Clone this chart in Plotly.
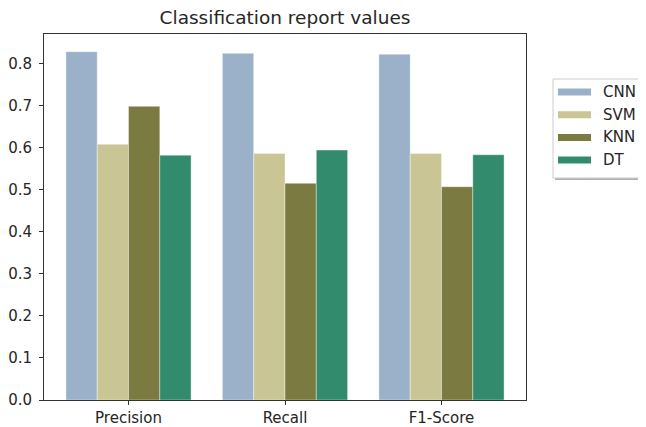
import plotly.graph_objects as go

metrics = ["Precision", "Recall", "F1-Score"]
models = ["CNN", "SVM", "KNN", "DT"]
cnn = [0.828, 0.824, 0.822]
svm = [0.608, 0.586, 0.586]
knn = [0.698, 0.515, 0.507]
dt = [0.582, 0.594, 0.583]
colors = ["#9bb1ca", "#c9c594", "#7a7a41", "#328b6c"]
yticks = [0.0, 0.1, 0.2, 0.3, 0.4, 0.5, 0.6, 0.7, 0.8]

series = [cnn, svm, knn, dt]

OFF = 8  # default page body margin
W, H = 646 - OFF, 427 - OFF
L, R, T, B = 44 - OFF, 120, 34 - OFF, 27
PW, PH = W - L - R, H - T - B

def px(x):
    # x in screenshot pixels -> paper coords
    return (x - OFF - L) / PW

def py(y):
    return (H - B - (y - OFF)) / PH

fig = go.Figure()
for name, vals, col in zip(models, series, colors):
    fig.add_trace(go.Bar(
        x=metrics, y=vals, name=name, showlegend=False,
        marker=dict(color=col, line=dict(width=0.7, color="rgba(255,255,255,0.55)")),
    ))

# manual legend (matplotlib style)
shapes = []
annotations = []
bx0, bx1, by0, by1 = 553, 640, 79, 178
shapes.append(dict(type="rect", xref="paper", yref="paper",
                   x0=px(bx0 + 2), x1=px(bx1 + 2), y0=py(by1 + 2), y1=py(by0 + 2),
                   line=dict(width=0), fillcolor="rgba(0,0,0,0.3)", layer="above"))
shapes.append(dict(type="rect", xref="paper", yref="paper",
                   x0=px(bx0), x1=px(bx1), y0=py(by1), y1=py(by0),
                   line=dict(width=1, color="#cccccc"), fillcolor="white", layer="above"))
for i, (name, col) in enumerate(zip(models, colors)):
    cy = 92 + i * 22.7
    shapes.append(dict(type="rect", xref="paper", yref="paper",
                       x0=px(558), x1=px(591), y0=py(cy + 3.5), y1=py(cy - 3.5),
                       line=dict(width=0), fillcolor=col, layer="above"))
    annotations.append(dict(xref="paper", yref="paper", x=px(602), y=py(cy),
                            text=name, showarrow=False, xanchor="left", yanchor="middle",
                            xshift=-1, font=dict(size=15, color="#262626", family="DejaVu Sans")))

fig.update_layout(
    width=W, height=H,
    margin=dict(l=L, r=R, t=T, b=B, pad=0, autoexpand=False),
    paper_bgcolor="white", plot_bgcolor="white",
    barmode="group", bargap=0.2, bargroupgap=0,
    font=dict(family="DejaVu Sans", size=15, color="#262626"),
    title=dict(text="Classification report values", x=(L + PW / 2) / W, xanchor="center",
               y=1 - (18 - OFF) / H, yanchor="middle",
               font=dict(size=18.5, color="#262626", family="DejaVu Sans")),
    shapes=shapes, annotations=annotations,
    showlegend=False,
)
fig.update_xaxes(range=[-0.54, 2.54], showline=True, mirror=True, linecolor="#333333", linewidth=1,
                 ticks="outside", ticklen=4, tickcolor="#333333", showgrid=False, automargin=False,
                 tickfont=dict(size=15, color="#262626"))
fig.update_yaxes(range=[0, 0.87], tickvals=yticks, ticktext=[f"{v:.1f}" for v in yticks],
                 showline=True, mirror=True, linecolor="#333333", linewidth=1,
                 ticks="outside", ticklen=4, tickcolor="#333333", showgrid=False, zeroline=False,
                 automargin=False, ticklabelstandoff=4, tickfont=dict(size=15, color="#262626"))

fig.write_html("out.html")
